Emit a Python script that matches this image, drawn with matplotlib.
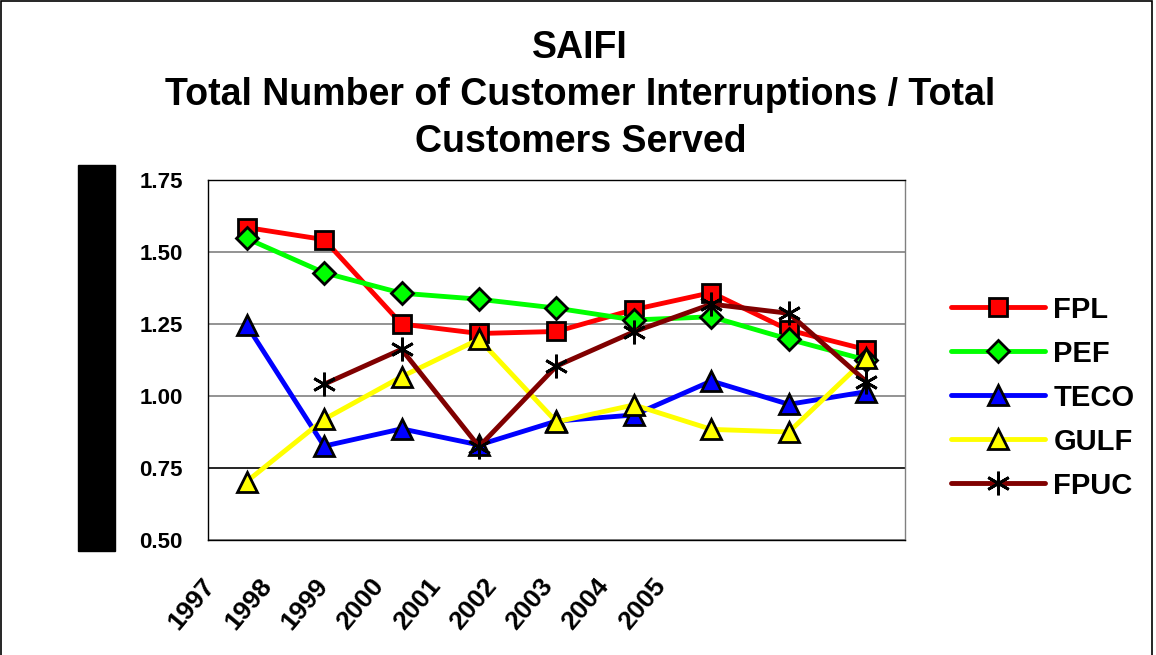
import matplotlib
matplotlib.use("Agg")
import matplotlib.pyplot as plt
import numpy as np
from matplotlib.patches import Rectangle

plt.rcParams["font.family"] = ["Liberation Sans", "DejaVu Sans"]

# ---- data ----
years = ["1997", "1998", "1999", "2000", "2001", "2002", "2003", "2004", "2005"]
fpl = [1.585, 1.543, 1.250, 1.217, 1.224, 1.300, 1.359, 1.229, 1.161]
pef = [1.547, 1.428, 1.357, 1.336, 1.305, 1.264, 1.275, 1.197, 1.125]
teco = [1.246, 0.826, 0.886, 0.830, 0.913, 0.934, 1.052, 0.971, 1.015]
gulf = [0.703, 0.919, 1.067, 1.197, 0.910, 0.969, 0.884, 0.875, 1.131]
fpuc = [np.nan, 1.041, 1.162, 0.824, 1.104, 1.223, 1.319, 1.287, 1.050]
yticks = [0.50, 0.75, 1.00, 1.25, 1.50, 1.75]

series = [
    ("FPL", fpl, "#ff0000", "s", 13),
    ("PEF", pef, "#00ff00", "D", 11),
    ("TECO", teco, "#0000ff", "^", 15),
    ("GULF", gulf, "#ffff00", "^", 15),
    ("FPUC", fpuc, "#800000", (6, 2, 0), 17),
]

fig = plt.figure(figsize=(11.56, 6.55), dpi=100)
ax = fig.add_axes([0.1799, 0.1756, 0.603, 0.5496])

x = np.arange(len(years))
for name, vals, col, mk, ms in series:
    ax.plot(x, vals, color=col, linewidth=3.5, marker=mk, markersize=ms,
            markerfacecolor=col if name != "FPUC" else "k",
            markeredgecolor="k", markeredgewidth=2, label=name,
            solid_capstyle="round")

ax.set_xlim(-0.5, len(years) - 0.5)
ax.set_ylim(0.5, 1.75)
ax.set_yticks(yticks)
ax.set_yticklabels([f"{v:.2f}" for v in yticks], fontsize=16, fontweight="bold")
ax.tick_params(axis="y", length=0, pad=18)

# year labels sit compressed to the left, as in the original
ax.set_xticks(-0.46 + 0.726 * x)
ax.set_xticklabels(years, rotation=50, ha="right", va="center",
                   rotation_mode="anchor", fontsize=19, fontweight="bold")
ax.tick_params(axis="x", length=0, pad=30)

ax.yaxis.grid(True, color="#808080", linewidth=1.2)
ax.get_ygridlines()[1].set_color("k")
for s in ax.spines.values():
    s.set_color("k")
    s.set_linewidth(1)
ax.spines["right"].set_color("#808080")

# title
fig.text(0.502, 0.855, "SAIFI\nTotal Number of Customer Interruptions / Total\nCustomers Served",
         ha="center", va="center", fontsize=27, fontweight="bold", linespacing=1.38)

# black bar on the left and figure border
fig.patches.append(Rectangle((0.0675, 0.1588), 0.032, 0.589, color="k",
                             transform=fig.transFigure, figure=fig))
fig.patches.append(Rectangle((0.001, -0.01), 0.9955, 1.008, fill=False,
                             edgecolor="k", linewidth=1.2,
                             transform=fig.transFigure, figure=fig))

fig.legend(loc="center left", bbox_to_anchor=(0.823, 0.393), frameon=False,
           borderpad=0, borderaxespad=0, handlelength=3.2, handletextpad=0.3,
           labelspacing=0.55, prop={"size": 21, "weight": "bold"})

fig.savefig("out.png", dpi=100)
